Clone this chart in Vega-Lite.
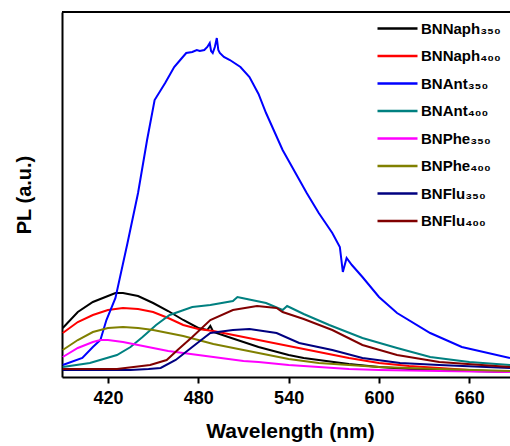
{
  "$schema": "https://vega.github.io/schema/vega-lite/v6.json",
  "width": 448,
  "height": 365,
  "autosize": {"type": "none"},
  "padding": {"left": 62, "top": 12, "right": 0, "bottom": 69},
  "config": {"view": {"stroke": null}, "font": "Liberation Sans"},
  "datasets": {
    "spectra": [
      {"s":"BNNaph₃₅₀","w":390,"v":49},{"s":"BNNaph₃₅₀","w":400,"v":65},{"s":"BNNaph₃₅₀","w":410,"v":75},{"s":"BNNaph₃₅₀","w":420,"v":81},{"s":"BNNaph₃₅₀","w":425,"v":84},{"s":"BNNaph₃₅₀","w":430,"v":84},{"s":"BNNaph₃₅₀","w":440,"v":81},{"s":"BNNaph₃₅₀","w":450,"v":74},{"s":"BNNaph₃₅₀","w":460,"v":66},{"s":"BNNaph₃₅₀","w":470,"v":57},{"s":"BNNaph₃₅₀","w":480,"v":49},{"s":"BNNaph₃₅₀","w":486,"v":47},{"s":"BNNaph₃₅₀","w":488,"v":51},{"s":"BNNaph₃₅₀","w":490,"v":45},{"s":"BNNaph₃₅₀","w":500,"v":40},{"s":"BNNaph₃₅₀","w":510,"v":35},{"s":"BNNaph₃₅₀","w":520,"v":30},{"s":"BNNaph₃₅₀","w":530,"v":26},{"s":"BNNaph₃₅₀","w":540,"v":22},{"s":"BNNaph₃₅₀","w":550,"v":19},{"s":"BNNaph₃₅₀","w":560,"v":17},{"s":"BNNaph₃₅₀","w":570,"v":15},{"s":"BNNaph₃₅₀","w":580,"v":13},{"s":"BNNaph₃₅₀","w":600,"v":10},{"s":"BNNaph₃₅₀","w":620,"v":8},{"s":"BNNaph₃₅₀","w":640,"v":7},{"s":"BNNaph₃₅₀","w":660,"v":6},{"s":"BNNaph₃₅₀","w":687,"v":5},
      {"s":"BNNaph₄₀₀","w":390,"v":44},{"s":"BNNaph₄₀₀","w":400,"v":55},{"s":"BNNaph₄₀₀","w":410,"v":62},{"s":"BNNaph₄₀₀","w":420,"v":67},{"s":"BNNaph₄₀₀","w":430,"v":69},{"s":"BNNaph₄₀₀","w":440,"v":68},{"s":"BNNaph₄₀₀","w":450,"v":65},{"s":"BNNaph₄₀₀","w":460,"v":59},{"s":"BNNaph₄₀₀","w":470,"v":52},{"s":"BNNaph₄₀₀","w":480,"v":48},{"s":"BNNaph₄₀₀","w":490,"v":46},{"s":"BNNaph₄₀₀","w":500,"v":43},{"s":"BNNaph₄₀₀","w":510,"v":40},{"s":"BNNaph₄₀₀","w":520,"v":37},{"s":"BNNaph₄₀₀","w":530,"v":34},{"s":"BNNaph₄₀₀","w":540,"v":31},{"s":"BNNaph₄₀₀","w":550,"v":28},{"s":"BNNaph₄₀₀","w":560,"v":25},{"s":"BNNaph₄₀₀","w":570,"v":22},{"s":"BNNaph₄₀₀","w":580,"v":19},{"s":"BNNaph₄₀₀","w":600,"v":14},{"s":"BNNaph₄₀₀","w":620,"v":11},{"s":"BNNaph₄₀₀","w":640,"v":9},{"s":"BNNaph₄₀₀","w":660,"v":7},{"s":"BNNaph₄₀₀","w":687,"v":5},
      {"s":"BNAnt₃₅₀","w":390,"v":12},{"s":"BNAnt₃₅₀","w":403,"v":19},{"s":"BNAnt₃₅₀","w":410,"v":30},{"s":"BNAnt₃₅₀","w":415,"v":37},{"s":"BNAnt₃₅₀","w":419,"v":57},{"s":"BNAnt₃₅₀","w":425,"v":79},{"s":"BNAnt₃₅₀","w":433,"v":134},{"s":"BNAnt₃₅₀","w":440,"v":184},{"s":"BNAnt₃₅₀","w":446,"v":237},{"s":"BNAnt₃₅₀","w":451,"v":277},{"s":"BNAnt₃₅₀","w":458,"v":294},{"s":"BNAnt₃₅₀","w":464,"v":310},{"s":"BNAnt₃₅₀","w":468,"v":317},{"s":"BNAnt₃₅₀","w":472,"v":324},{"s":"BNAnt₃₅₀","w":476,"v":325},{"s":"BNAnt₃₅₀","w":479,"v":327},{"s":"BNAnt₃₅₀","w":481,"v":326},{"s":"BNAnt₃₅₀","w":484,"v":327},{"s":"BNAnt₃₅₀","w":486,"v":330},{"s":"BNAnt₃₅₀","w":487.6,"v":334},{"s":"BNAnt₃₅₀","w":488.5,"v":326},{"s":"BNAnt₃₅₀","w":489.6,"v":324},{"s":"BNAnt₃₅₀","w":491,"v":330},{"s":"BNAnt₃₅₀","w":492.3,"v":339},{"s":"BNAnt₃₅₀","w":493.3,"v":327},{"s":"BNAnt₃₅₀","w":494.3,"v":324},{"s":"BNAnt₃₅₀","w":497,"v":320},{"s":"BNAnt₃₅₀","w":501,"v":317},{"s":"BNAnt₃₅₀","w":508,"v":310},{"s":"BNAnt₃₅₀","w":514,"v":300},{"s":"BNAnt₃₅₀","w":520,"v":283},{"s":"BNAnt₃₅₀","w":525,"v":264},{"s":"BNAnt₃₅₀","w":536,"v":227},{"s":"BNAnt₃₅₀","w":552,"v":184},{"s":"BNAnt₃₅₀","w":560,"v":164},{"s":"BNAnt₃₅₀","w":569,"v":144},{"s":"BNAnt₃₅₀","w":574,"v":130},{"s":"BNAnt₃₅₀","w":576,"v":105},{"s":"BNAnt₃₅₀","w":578.5,"v":119},{"s":"BNAnt₃₅₀","w":582,"v":112},{"s":"BNAnt₃₅₀","w":589,"v":100},{"s":"BNAnt₃₅₀","w":600,"v":80},{"s":"BNAnt₃₅₀","w":612,"v":64},{"s":"BNAnt₃₅₀","w":634,"v":44},{"s":"BNAnt₃₅₀","w":655,"v":30},{"s":"BNAnt₃₅₀","w":687,"v":19},
      {"s":"BNAnt₄₀₀","w":390,"v":10},{"s":"BNAnt₄₀₀","w":408,"v":14},{"s":"BNAnt₄₀₀","w":426,"v":22},{"s":"BNAnt₄₀₀","w":435,"v":30},{"s":"BNAnt₄₀₀","w":443,"v":40},{"s":"BNAnt₄₀₀","w":452,"v":52},{"s":"BNAnt₄₀₀","w":461,"v":62},{"s":"BNAnt₄₀₀","w":476,"v":70},{"s":"BNAnt₄₀₀","w":488,"v":72},{"s":"BNAnt₄₀₀","w":503,"v":76},{"s":"BNAnt₄₀₀","w":506,"v":80},{"s":"BNAnt₄₀₀","w":509,"v":79},{"s":"BNAnt₄₀₀","w":525,"v":74},{"s":"BNAnt₄₀₀","w":536,"v":67},{"s":"BNAnt₄₀₀","w":539,"v":71},{"s":"BNAnt₄₀₀","w":550,"v":63},{"s":"BNAnt₄₀₀","w":567,"v":52},{"s":"BNAnt₄₀₀","w":589,"v":39},{"s":"BNAnt₄₀₀","w":612,"v":29},{"s":"BNAnt₄₀₀","w":634,"v":20},{"s":"BNAnt₄₀₀","w":660,"v":15},{"s":"BNAnt₄₀₀","w":687,"v":12},
      {"s":"BNPhe₃₅₀","w":390,"v":20},{"s":"BNPhe₃₅₀","w":400,"v":29},{"s":"BNPhe₃₅₀","w":410,"v":35},{"s":"BNPhe₃₅₀","w":415,"v":37},{"s":"BNPhe₃₅₀","w":420,"v":37},{"s":"BNPhe₃₅₀","w":430,"v":35},{"s":"BNPhe₃₅₀","w":440,"v":32},{"s":"BNPhe₃₅₀","w":450,"v":29},{"s":"BNPhe₃₅₀","w":460,"v":26},{"s":"BNPhe₃₅₀","w":470,"v":24},{"s":"BNPhe₃₅₀","w":480,"v":22},{"s":"BNPhe₃₅₀","w":490,"v":20},{"s":"BNPhe₃₅₀","w":500,"v":18},{"s":"BNPhe₃₅₀","w":510,"v":16},{"s":"BNPhe₃₅₀","w":520,"v":15},{"s":"BNPhe₃₅₀","w":540,"v":12},{"s":"BNPhe₃₅₀","w":560,"v":10},{"s":"BNPhe₃₅₀","w":580,"v":8},{"s":"BNPhe₃₅₀","w":600,"v":7},{"s":"BNPhe₃₅₀","w":640,"v":6},{"s":"BNPhe₃₅₀","w":687,"v":5},
      {"s":"BNPhe₄₀₀","w":390,"v":27},{"s":"BNPhe₄₀₀","w":400,"v":37},{"s":"BNPhe₄₀₀","w":410,"v":45},{"s":"BNPhe₄₀₀","w":420,"v":49},{"s":"BNPhe₄₀₀","w":430,"v":50},{"s":"BNPhe₄₀₀","w":440,"v":49},{"s":"BNPhe₄₀₀","w":450,"v":47},{"s":"BNPhe₄₀₀","w":460,"v":44},{"s":"BNPhe₄₀₀","w":470,"v":41},{"s":"BNPhe₄₀₀","w":480,"v":37},{"s":"BNPhe₄₀₀","w":490,"v":33},{"s":"BNPhe₄₀₀","w":500,"v":30},{"s":"BNPhe₄₀₀","w":510,"v":27},{"s":"BNPhe₄₀₀","w":520,"v":24},{"s":"BNPhe₄₀₀","w":530,"v":21},{"s":"BNPhe₄₀₀","w":540,"v":18},{"s":"BNPhe₄₀₀","w":550,"v":16},{"s":"BNPhe₄₀₀","w":560,"v":14},{"s":"BNPhe₄₀₀","w":580,"v":12},{"s":"BNPhe₄₀₀","w":600,"v":10},{"s":"BNPhe₄₀₀","w":640,"v":8},{"s":"BNPhe₄₀₀","w":687,"v":6},
      {"s":"BNFlu₃₅₀","w":390,"v":7},{"s":"BNFlu₃₅₀","w":435,"v":7},{"s":"BNFlu₃₅₀","w":447,"v":8},{"s":"BNFlu₃₅₀","w":455,"v":9},{"s":"BNFlu₃₅₀","w":465,"v":17},{"s":"BNFlu₃₅₀","w":476,"v":30},{"s":"BNFlu₃₅₀","w":488,"v":44},{"s":"BNFlu₃₅₀","w":503,"v":47},{"s":"BNFlu₃₅₀","w":514,"v":48},{"s":"BNFlu₃₅₀","w":532,"v":44},{"s":"BNFlu₃₅₀","w":547,"v":34},{"s":"BNFlu₃₅₀","w":569,"v":27},{"s":"BNFlu₃₅₀","w":589,"v":19},{"s":"BNFlu₃₅₀","w":614,"v":14},{"s":"BNFlu₃₅₀","w":640,"v":12},{"s":"BNFlu₃₅₀","w":687,"v":9},
      {"s":"BNFlu₄₀₀","w":390,"v":8},{"s":"BNFlu₄₀₀","w":426,"v":8},{"s":"BNFlu₄₀₀","w":448,"v":12},{"s":"BNFlu₄₀₀","w":459,"v":17},{"s":"BNFlu₄₀₀","w":467,"v":28},{"s":"BNFlu₄₀₀","w":476,"v":40},{"s":"BNFlu₄₀₀","w":488,"v":57},{"s":"BNFlu₄₀₀","w":503,"v":67},{"s":"BNFlu₄₀₀","w":519,"v":71},{"s":"BNFlu₄₀₀","w":532,"v":69},{"s":"BNFlu₄₀₀","w":536,"v":65},{"s":"BNFlu₄₀₀","w":550,"v":58},{"s":"BNFlu₄₀₀","w":569,"v":47},{"s":"BNFlu₄₀₀","w":589,"v":32},{"s":"BNFlu₄₀₀","w":612,"v":22},{"s":"BNFlu₄₀₀","w":640,"v":15},{"s":"BNFlu₄₀₀","w":687,"v":10}
    ],
    "frame": [{"top": 365}]
  },
  "layer": [
    {
      "data": {"name": "spectra"},
      "mark": {"type": "line", "strokeWidth": 2, "clip": true},
      "encoding": {
        "x": {
          "field": "w", "type": "quantitative",
          "scale": {"domain": [389.5, 687], "nice": false, "zero": false},
          "axis": {
            "values": [420, 480, 540, 600, 660], "grid": false,
            "tickSize": 6, "tickWidth": 2, "tickColor": "black",
            "domainWidth": 2, "domainColor": "black",
            "labelFont": "Liberation Sans", "labelFontSize": 18, "labelFontWeight": "bold", "labelColor": "black", "labelPadding": 6,
            "title": "Wavelength (nm)", "titleFont": "Liberation Sans", "titleFontSize": 21, "titleFontWeight": "bold", "titleColor": "black",
            "titlePadding": 13, "titleX": 228
          }
        },
        "y": {
          "field": "v", "type": "quantitative",
          "scale": {"domain": [0, 365], "nice": false},
          "axis": {
            "labels": false, "ticks": false, "grid": false,
            "domainWidth": 2, "domainColor": "black",
            "title": "PL (a.u.)", "titleFont": "Liberation Sans", "titleFontSize": 20, "titleFontWeight": "bold", "titleColor": "black",
            "titlePadding": 28
          }
        },
        "color": {
          "field": "s", "type": "nominal",
          "scale": {
            "domain": ["BNNaph₃₅₀","BNNaph₄₀₀","BNAnt₃₅₀","BNAnt₄₀₀","BNPhe₃₅₀","BNPhe₄₀₀","BNFlu₃₅₀","BNFlu₄₀₀"],
            "range": ["#000000","#FF0000","#0000FF","#008080","#FF00FF","#808000","#000080","#800000"]
          },
          "legend": {
            "orient": "none", "legendX": 314, "legendY": 9, "title": null, "padding": 0,
            "symbolType": "stroke", "symbolSize": 1600, "symbolStrokeWidth": 2.5,
            "labelFont": "Liberation Sans", "labelFontSize": 15, "labelFontWeight": "bold", "labelColor": "black",
            "labelOffset": 2, "clipHeight": 15, "rowPadding": 11.5
          }
        }
      }
    },
    {
      "data": {"name": "frame"},
      "mark": {"type": "rule", "color": "black", "strokeWidth": 2},
      "encoding": {"y": {"field": "top", "type": "quantitative"}}
    }
  ]
}
